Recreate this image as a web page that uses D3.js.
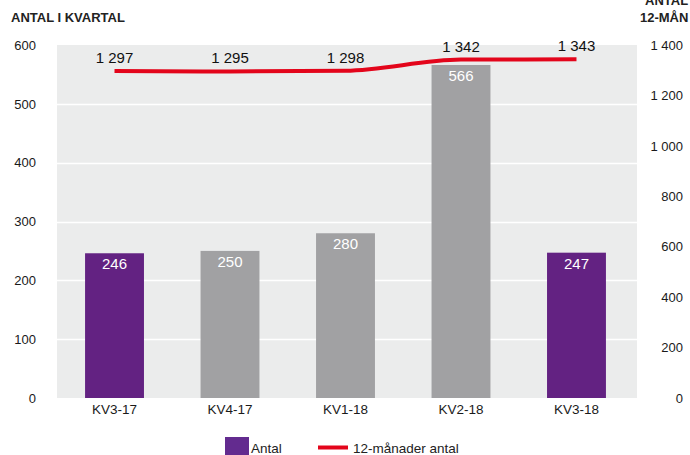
<!DOCTYPE html>
<html>
<head>
<meta charset="utf-8">
<script src="https://cdn.jsdelivr.net/npm/d3@7"></script>
<style>
  body { margin: 0; background: #fff; overflow: hidden; }
  text { font-family: "Liberation Sans", Arial, sans-serif; }
</style>
</head>
<body>
<script>
'use strict';

// chart data
const quarters = ["KV3-17", "KV4-17", "KV1-18", "KV2-18", "KV3-18"];
const antal = [246, 250, 280, 566, 247];
const highlight = [true, false, false, false, true];
const rolling12 = [1297, 1295, 1298, 1342, 1343];
const leftTicks = [0, 100, 200, 300, 400, 500, 600];
const rightTicks = [0, 200, 400, 600, 800, 1000, 1200, 1400];

(function() {
  let width = 690;
  let height = 455;
  let plot = { left: 57, right: 637, top: 45, bottom: 398 };
  let ff = '"Liberation Sans", Arial, sans-serif';

  let locale = d3.formatLocale({ decimal: ",", thousands: " ", grouping: [3], currency: ["", " kr"] });
  let fmt = locale.format(",d");

  let svg = d3.select('body')
    .append('svg')
    .attr('width', width)
    .attr('height', height);

  let xScale = d3.scaleBand()
    .domain(quarters)
    .range([plot.left, plot.right - 3])
    .paddingInner(0.49)
    .paddingOuter(0.243);

  let yLeft = d3.scaleLinear().domain([0, 600]).range([plot.bottom, plot.top]);
  let yRight = d3.scaleLinear().domain([0, 1400]).range([plot.bottom, plot.top]);

  // background
  svg.append('rect')
    .attr('x', plot.left)
    .attr('y', plot.top)
    .attr('width', plot.right - plot.left)
    .attr('height', plot.bottom - plot.top)
    .attr('fill', '#ebecec');

  // white gridlines
  svg.selectAll('.grid')
    .data(leftTicks.slice(1, -1))
    .enter()
    .append('line')
    .attr('x1', plot.left)
    .attr('x2', plot.right)
    .attr('y1', d => Math.round(yLeft(d)) + 0.5)
    .attr('y2', d => Math.round(yLeft(d)) + 0.5)
    .attr('stroke', '#ffffff')
    .attr('stroke-width', 1.5);

  // left axis
  let leftAxis = d3.axisLeft(yLeft).tickValues(leftTicks).tickSize(0).tickPadding(0);
  let gl = svg.append('g')
    .attr('transform', 'translate(36,0)')
    .call(leftAxis);
  gl.select('.domain').remove();
  gl.selectAll('text').style('font-size', '13px').attr('fill', '#1a1a1a')
    .attr('font-family', ff);

  // right axis
  let rightAxis = d3.axisRight(yRight).tickValues(rightTicks).tickSize(0).tickPadding(0).tickFormat(fmt);
  let gr = svg.append('g')
    .attr('transform', 'translate(683,0)')
    .call(rightAxis);
  gr.select('.domain').remove();
  gr.selectAll('text').style('font-size', '13px').attr('fill', '#1a1a1a')
    .attr('text-anchor', 'end')
    .attr('font-family', ff);

  // x axis
  let xAxis = d3.axisBottom(xScale).tickSize(0).tickPadding(6);
  let gx = svg.append('g')
    .attr('transform', 'translate(0,' + plot.bottom + ')')
    .call(xAxis);
  gx.select('.domain').remove();
  gx.selectAll('text').style('font-size', '13.5px').attr('fill', '#1a1a1a')
    .attr('font-family', ff);

  // bars
  let barData = quarters.map((q, i) => ({ q: q, v: antal[i], hl: highlight[i] }));
  svg.selectAll('.bar')
    .data(barData)
    .enter()
    .append('rect')
    .attr('x', d => xScale(d.q))
    .attr('y', d => yLeft(d.v))
    .attr('width', xScale.bandwidth())
    .attr('height', d => plot.bottom - yLeft(d.v))
    .attr('fill', d => d.hl ? '#632282' : '#a1a1a3');

  svg.selectAll('.barlabel')
    .data(barData)
    .enter()
    .append('text')
    .attr('x', d => xScale(d.q) + xScale.bandwidth() / 2)
    .attr('y', d => yLeft(d.v) + 16)
    .attr('text-anchor', 'middle')
    .style('font-size', '15px')
    .attr('fill', '#ffffff')
    .text(d => d.v);

  // 12-month line
  let lineData = quarters.map((q, i) => ({ q: q, v: rolling12[i] }));
  let line = d3.line()
    .x(d => xScale(d.q) + xScale.bandwidth() / 2)
    .y(d => yRight(d.v))
    .curve(d3.curveMonotoneX);

  svg.append('path')
    .datum(lineData)
    .attr('d', line)
    .attr('fill', 'none')
    .attr('stroke', '#e3051b')
    .attr('stroke-width', 4);

  svg.selectAll('.linelabel')
    .data(lineData)
    .enter()
    .append('text')
    .attr('x', d => xScale(d.q) + xScale.bandwidth() / 2)
    .attr('y', d => yRight(d.v) - 8)
    .attr('text-anchor', 'middle')
    .style('font-size', '15px')
    .attr('fill', '#111')
    .text(d => fmt(d.v));

  // titles
  svg.append('text')
    .attr('x', 11)
    .attr('y', 22)
    .style('font-size', '13px')
    .style('font-weight', 'bold')
    .attr('fill', '#222')
    .text('ANTAL I KVARTAL');

  svg.append('text')
    .attr('x', 645)
    .attr('y', 5)
    .style('font-size', '13px')
    .style('font-weight', 'bold')
    .attr('fill', '#222')
    .text('ANTAL');

  svg.append('text')
    .attr('x', 640)
    .attr('y', 22)
    .style('font-size', '13px')
    .style('font-weight', 'bold')
    .attr('fill', '#222')
    .text('12-MÅN');

  // legend
  svg.append('rect')
    .attr('x', 225)
    .attr('y', 437)
    .attr('width', 24)
    .attr('height', 18)
    .attr('fill', '#632b8f');
  svg.append('text')
    .attr('x', 251)
    .attr('y', 453)
    .style('font-size', '13.5px')
    .attr('fill', '#222')
    .text('Antal');
  svg.append('line')
    .attr('x1', 318)
    .attr('x2', 348)
    .attr('y1', 447.5)
    .attr('y2', 447.5)
    .attr('stroke', '#e3051b')
    .attr('stroke-width', 4);
  svg.append('text')
    .attr('x', 353)
    .attr('y', 453)
    .style('font-size', '13.5px')
    .attr('fill', '#222')
    .text('12-månader antal');
})();
</script>
</body>
</html>
